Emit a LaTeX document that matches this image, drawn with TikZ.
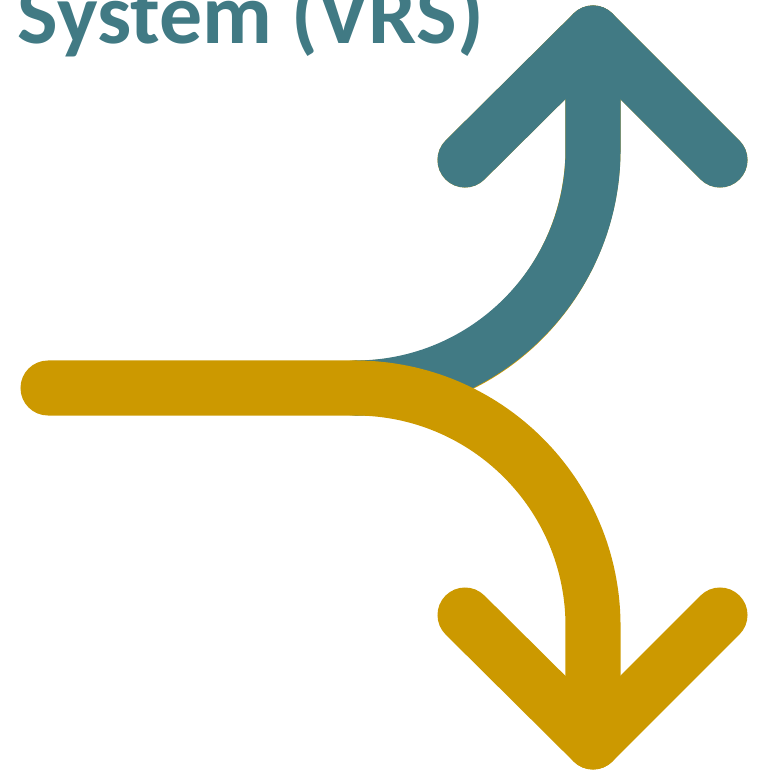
\documentclass[tikz,border=0pt]{standalone}
\usepackage{fontspec}
\setmainfont{Carlito}
\usepackage{tikz}
\definecolor{vrsteal}{HTML}{417A84}
\definecolor{vrsgold}{HTML}{CC9900}

\begin{document}
\begin{tikzpicture}[x=0.01cm, y=-0.01cm,
    band/.style={line width=0.55cm, line cap=round, line join=round}]
      \useasboundingbox (0, 0) rectangle (764, 773);

      % Title
      \node (title) [anchor=base west, inner sep=0pt, text=vrsteal,
        font=\fontsize{24.4pt}{27pt}\selectfont\bfseries] at (17, 44) {System (VRS)};

      % Points
      \coordinate (tip up) at (593, 33);
      \coordinate (up left) at (465, 160);
      \coordinate (up right) at (720, 160);
      \coordinate (up bend) at (593, 150);
      \coordinate (fork) at (355, 388);
      \coordinate (start) at (48, 388);
      \coordinate (down bend) at (593, 626);
      \coordinate (tip down) at (593, 742);
      \coordinate (down left) at (465, 615);
      \coordinate (down right) at (720, 615);

      % Upper arrow, thin gold shadow first
      \begin{scope}[shift={(-1, 2)}]
        \draw [band, vrsgold] (fork) .. controls (486.4, 388) and (593, 281.4) .. (up bend) -- (tip up);
        \draw [band, vrsgold] (up left) -- (tip up) -- (up right);
      \end{scope}
      \draw [band, vrsteal] (fork) .. controls (486.4, 388) and (593, 281.4) .. (up bend) -- (tip up);
      \draw [band, vrsteal] (up left) -- (tip up) -- (up right);

      % Lower arrow
      \draw [band, vrsgold] (start) -- (fork) .. controls (486.4, 388) and (593, 494.6) .. (down bend) -- (tip down);
      \draw [band, vrsgold] (down left) -- (tip down) -- (down right);
    \end{tikzpicture}
\end{document}
